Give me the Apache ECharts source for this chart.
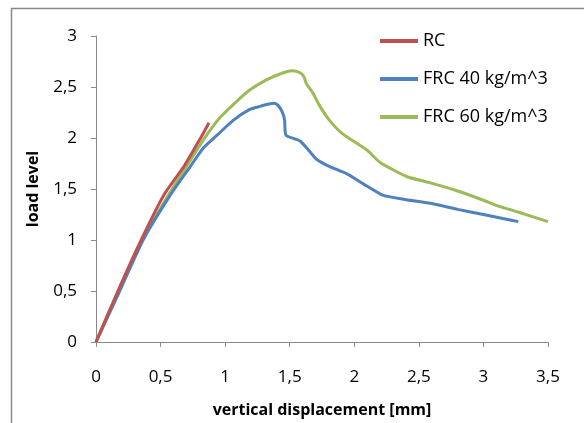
<!DOCTYPE html>
<html>
<head>
<meta charset="utf-8">
<script src="https://cdn.jsdelivr.net/npm/echarts@6/dist/echarts.min.js"></script>
<style>
  html, body { margin: 0; padding: 0; background: #fff; }
  #chart { width: 584px; height: 423px; }
</style>
</head>
<body>
<div id="chart"></div>
<script>
// values
const rcX = [0, 0.17, 0.35, 0.53, 0.68, 0.81, 0.875];
const rcY = [0, 0.5, 1.0, 1.45, 1.72, 2.0, 2.15];

const frc40X = [0, 0.18, 0.365, 0.57, 0.73, 0.83, 0.94, 1.06, 1.19, 1.27, 1.33, 1.38, 1.41, 1.44, 1.46, 1.47, 1.58, 1.66, 1.71, 1.81, 1.94, 2.07, 2.22, 2.38, 2.59, 2.8, 3.0, 3.15, 3.27];
const frc40Y = [0, 0.49, 1.0, 1.43, 1.72, 1.9, 2.03, 2.17, 2.28, 2.31, 2.33, 2.34, 2.32, 2.26, 2.18, 2.03, 1.97, 1.86, 1.79, 1.72, 1.65, 1.55, 1.44, 1.4, 1.36, 1.3, 1.25, 1.21, 1.18];

const frc60X = [0, 0.17, 0.36, 0.57, 0.73, 0.83, 0.96, 1.09, 1.19, 1.32, 1.45, 1.52, 1.58, 1.61, 1.63, 1.68, 1.73, 1.81, 1.91, 2.1, 2.2, 2.41, 2.59, 2.8, 3.0, 3.1, 3.28, 3.5];
const frc60Y = [0, 0.49, 1.0, 1.46, 1.78, 1.98, 2.2, 2.36, 2.47, 2.57, 2.64, 2.66, 2.64, 2.6, 2.53, 2.44, 2.32, 2.17, 2.04, 1.88, 1.76, 1.62, 1.56, 1.48, 1.39, 1.34, 1.27, 1.18];

const seriesNames = ["RC", "FRC 40 kg/m^3", "FRC 60 kg/m^3"];
const seriesColors = ["#C0504D", "#4F81BD", "#9BBB59"];

const pairs = (xs, ys) => xs.map((x, i) => [x, ys[i]]);
const commaFmt = (v) => String(v).replace(".", ",");

const chart = echarts.init(document.getElementById("chart"));
const font = "'Open Sans', 'Liberation Sans', sans-serif";

const option = {
  animation: false,
  backgroundColor: "#fff",
  graphic: [{
    type: "rect",
    shape: { x: 11.5, y: 8.5, width: 620, height: 440 },
    style: { fill: "none", stroke: "#8a8a8a", lineWidth: 1.5 },
    silent: true
  }],
  grid: { left: 96, right: 36, top: 36, bottom: 73 },
  legend: {
    orient: "vertical",
    left: 375,
    top: 27,
    icon: "rect",
    itemWidth: 38,
    itemHeight: 4,
    itemGap: 20,
    textStyle: { fontFamily: font, fontSize: 18, lineHeight: 18, color: "#000" },
    data: seriesNames
  },
  xAxis: {
    type: "value",
    min: 0, max: 3.5, interval: 0.5,
    name: "vertical displacement [mm]",
    nameLocation: "middle",
    nameGap: 60,
    nameTextStyle: { fontFamily: font, fontSize: 16, fontWeight: "bold", color: "#000" },
    axisLine: { show: true, lineStyle: { color: "#8a8a8a", width: 1 } },
    axisTick: { show: true, length: 5, lineStyle: { color: "#8a8a8a" } },
    axisLabel: { fontFamily: font, fontSize: 17, color: "#000", margin: 27, formatter: commaFmt },
    splitLine: { show: false }
  },
  yAxis: {
    type: "value",
    min: 0, max: 3, interval: 0.5,
    name: "load level",
    nameLocation: "middle",
    nameGap: 55,
    nameTextStyle: { fontFamily: font, fontSize: 16, fontWeight: "bold", color: "#000" },
    axisLine: { show: true, lineStyle: { color: "#8a8a8a", width: 1 } },
    axisTick: { show: true, length: 5, lineStyle: { color: "#8a8a8a" } },
    axisLabel: { fontFamily: font, fontSize: 17, color: "#000", margin: 19, formatter: commaFmt },
    splitLine: { show: false }
  },
  series: [
    { name: seriesNames[0], data: pairs(rcX, rcY) },
    { name: seriesNames[1], data: pairs(frc40X, frc40Y) },
    { name: seriesNames[2], data: pairs(frc60X, frc60Y) }
  ].map((s, i) => Object.assign({
    type: "line",
    showSymbol: false,
    symbol: "none",
    smooth: 0.2,
    color: seriesColors[i],
    lineStyle: { width: 3, color: seriesColors[i] },
    z: 3 - i
  }, s))
};
chart.setOption(option);
</script>
</body>
</html>
